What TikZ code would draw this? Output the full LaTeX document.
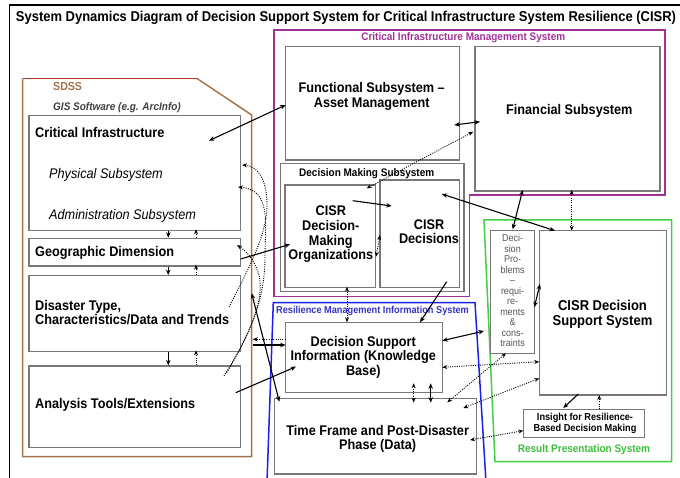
\documentclass[tikz,border=0pt]{standalone}
\usepackage{graphicx}
\usepackage{fontspec}
\setmainfont{Liberation Sans}
\usetikzlibrary{arrows.meta,fit,calc}
\definecolor{boxgray}{RGB}{120,120,120}
\definecolor{sdssbrown}{RGB}{165,115,75}
\definecolor{sdssred}{RGB}{185,60,45}
\definecolor{cimspurple}{RGB}{160,50,150}
\definecolor{rmisblue}{RGB}{30,30,235}
\definecolor{rmistext}{RGB}{50,50,200}
\definecolor{rpsgreen}{RGB}{70,205,70}
\definecolor{rpstext}{RGB}{60,190,60}
\definecolor{dpgray}{RGB}{85,85,85}
\newcommand\vs[1]{\scalebox{1}[1.1]{#1}}
\newcommand\vsm[1]{\scalebox{1}[1.1]{\begin{tabular}{@{}c@{}}#1\end{tabular}}}
\begin{document}
\begin{tikzpicture}[x=1pt,y=-1pt,
  box/.style={draw=boxgray, line width=1.2pt, inner sep=0pt},
  big/.style={font=\fontsize{12.7}{13.1}\selectfont\bfseries, inner sep=0pt},
  lbig/.style={font=\fontsize{12.7}{14.5}\selectfont\bfseries, anchor=base west, inner sep=0pt},
  ital/.style={font=\fontsize{12.7}{14.5}\selectfont\itshape, anchor=base west, inner sep=0pt},
  syslbl/.style={font=\fontsize{10}{12}\selectfont\bfseries, inner sep=0pt},
  outl/.style={line width=1.5pt},
  sarr/.style={line width=1.1pt, -{Stealth[length=5.5pt,width=4.5pt]}},
  sdbl/.style={line width=1.1pt, {Stealth[length=5.5pt,width=4.5pt]}-{Stealth[length=5.5pt,width=4.5pt]}},
  darr/.style={line width=0.9pt, dash pattern=on 1pt off 1.3pt, -{Stealth[length=5pt,width=4pt]}},
  ddbl/.style={line width=0.9pt, dash pattern=on 1pt off 1.3pt, {Stealth[length=5pt,width=4pt]}-{Stealth[length=5pt,width=4pt]}}
]
\useasboundingbox (0,0) rectangle (680,478);
% frame and title
\draw[line width=1.6pt] (9.5,482) -- (9.5,5) -- (682,5);
\node[inner sep=0pt] (title) at (346,17.5) {\scalebox{1}[1.1]{\resizebox{660pt}{!}{\bfseries System Dynamics Diagram of Decision Support System for Critical Infrastructure System Resilience (CISR)}}};

% system outlines
\draw[sdssbrown, outl] (196.7,78.3) -- (251.7,115) -- (251.7,456.7) -- (22.7,456.7) -- (22.7,78.3);
\draw[sdssred, outl] (22.7,78.3) -- (196.7,78.3);
\draw[cimspurple, outl] (274,30) -- (665,30) -- (665,195) -- (469.3,195) -- (469.3,296.7) -- (274,296.7) -- cycle;
\draw[rmisblue, outl] (267,482) -- (273.3,302.7) -- (475,302.7) -- (486,482);
\draw[rpsgreen, outl] (484,220) -- (671.7,220) -- (671.7,461.7) -- (495,461.7) -- cycle;

% system labels
\node[font=\fontsize{10.6}{12}\selectfont\bfseries, text=sdssbrown, anchor=base west, inner sep=0pt] (sdsslbl) at (53,90.8) {\vs{SDSS}};
\node[font=\fontsize{10}{12}\selectfont\bfseries\itshape, text=black!75, anchor=base west, inner sep=0pt] (gis) at (53,110.3) {\vs{GIS Software (e.g. ArcInfo)}};
\node[syslbl, text=cimspurple] (cimslbl) at (463.3,37.3) {\vs{Critical Infrastructure Management System}};
\node[syslbl, font=\fontsize{9.2}{11}\selectfont\bfseries, text=rmistext] (rmislbl) at (372.5,311) {\vs{Resilience Management Information System}};
\node[syslbl, text=rpstext] (rpslbl) at (584,449.3) {\vs{Result Presentation System}};

% boxes
\node[box, fit={(29,115.7) (240.7,230.7)}] (ci) {};
\node[box, fit={(29,238.3) (240.7,266)}] (geo) {};
\node[box, fit={(29,275.7) (240.7,351.7)}] (dis) {};
\node[box, fit={(29,366) (240.7,447.3)}] (ana) {};
\node[box, fit={(285.7,46.7) (459.3,160)}] (fun) {};
\node[box, fit={(475,46.7) (660,191)}] (fin) {};
\node[box, fit={(280.7,163.3) (464,291.7)}] (dms) {};
\node[box, fit={(285,185) (375.7,287.7)}] (dmo) {};
\node[box, fit={(380,180) (459.3,287.7)}] (dec) {};
\node[box, fit={(285.7,322.3) (442.3,392.7)}] (dsi) {};
\node[box, fit={(274.3,398.3) (476.7,474)}] (tf) {};
\node[box, fit={(490.7,230.7) (534.3,353.3)}] (dp) {};
\node[box, fit={(539.3,230.7) (666.7,395)}] (dss) {};
\node[box, fit={(523.3,409.3) (644.3,437.3)}] (ins) {};

% box texts
\node[lbig] (cit) at (35,137.5) {\vs{Critical Infrastructure}};
\node[ital] (cip) at (49,178.5) {\vs{Physical Subsystem}};
\node[ital] (cia) at (49,219.5) {\vs{Administration Subsystem}};
\node[lbig] (geot) at (35,256.2) {\vs{Geographic Dimension}};
\node[lbig] (dist1) at (35,310.5) {\vs{Disaster Type,}};
\node[lbig] (dist2) at (35,324.5) {\vs{Characteristics/Data and Trends}};
\node[lbig] (anat) at (35,408.5) {\vs{Analysis Tools/Extensions}};
\node[big] (funt) at (371.7,97.2) {\vsm{Functional Subsystem –\\Asset Management}};
\node[big] (fint) at (569.3,111) {\vs{Financial Subsystem}};
\node[syslbl] (dmst) at (366.7,173.3) {\vs{Decision Making Subsystem}};
\node[big, font=\fontsize{12.7}{13.4}\selectfont\bfseries] (dmot) at (330.8,234.7) {\vsm{CISR\\Decision-\\Making\\Organizations}};
\node[big] (dect) at (429,233.8) {\vsm{CISR\\Decisions}};
\node[big, font=\fontsize{12.7}{13.2}\selectfont\bfseries] (dsit) at (363.3,357.8) {\vsm{Decision Support\\Information (Knowledge\\Base)}};
\node[big, font=\fontsize{12.7}{12.5}\selectfont\bfseries] (tft) at (377.7,439.2) {\vsm{Time Frame and Post-Disaster\\Phase (Data)}};
\node[font=\fontsize{9}{9.55}\selectfont, text=dpgray, inner sep=0pt] (dpt) at (512.5,292) {\vsm{Deci-\\sion\\Pro-\\blems\\–\\requi-\\re-\\ments\\\&\\cons-\\traints}};
\node[big, font=\fontsize{13}{13.3}\selectfont\bfseries] (dsst) at (602.5,315) {\vsm{CISR Decision\\Support System}};
\node[font=\fontsize{9.2}{9.7}\selectfont\bfseries, inner sep=0pt] (inst) at (585,423.7) {\vsm{Insight for Resilience-\\Based Decision Making}};

% connector end points
\coordinate (ciA) at (209,140.7);
\coordinate (funA) at (285.7,105);
\coordinate (funB) at (454.3,125);
\coordinate (finB) at (480,121.7);
\coordinate (dmoC) at (366.7,188.3);
\coordinate (finC) at (473.3,131.7);
\coordinate (dmoD) at (352.7,200.7);
\coordinate (decD) at (391.7,206);
\coordinate (dmoE) at (376,256.7);
\coordinate (decE) at (380,235);
\coordinate (decF) at (441.7,194);
\coordinate (dssF) at (555,230.7);
\coordinate (finG) at (522.7,190);
\coordinate (dpG) at (512.7,229.3);
\coordinate (finH) at (571.7,190);
\coordinate (dssH) at (571.7,230.7);
\coordinate (geoI) at (240.7,259);
\coordinate (dmoI) at (290,244.3);
\coordinate (decJ) at (446.7,281.7);
\coordinate (dsiJ) at (420,322.3);
\coordinate (dmsK) at (347,286.7);
\coordinate (dsiK) at (347,322.3);
\coordinate (dsiL) at (442.3,340.7);
\coordinate (rpsL) at (484,331);
\coordinate (dpM) at (534.3,307.3);
\coordinate (dssM) at (540,284);
\coordinate (dsiN) at (442.3,367.3);
\coordinate (dssN) at (539.3,361.7);
\coordinate (tfO) at (447.3,402.3);
\coordinate (dpO) at (506,353.3);
\coordinate (tfP) at (463.3,408);
\coordinate (dssP) at (539.3,378.3);
\coordinate (tfQ) at (470,440);
\coordinate (insQ) at (523.3,430.7);
\coordinate (dsiR1) at (413.7,383.3);
\coordinate (tfR1) at (413.7,402.7);
\coordinate (dsiR2) at (430.7,383.3);
\coordinate (tfR2) at (430.7,402.7);
\coordinate (dssS) at (578.3,394);
\coordinate (insS) at (563.3,408);
\coordinate (insT) at (599.3,409.3);
\coordinate (dssT) at (599.3,395);
\coordinate (dsiU1) at (285.7,339.3);
\coordinate (sdsU1) at (252.7,339.3);
\coordinate (sdsU2) at (252.7,345);
\coordinate (dsiU2) at (285.7,345);
\coordinate (anaV) at (235.7,392.7);
\coordinate (dsiV) at (296,366.7);
\coordinate (disW) at (251.7,293.3);
\coordinate (tfW) at (279.3,401.7);
\coordinate (ciX1) at (242,165);
\coordinate (ciX2) at (238,187);
\coordinate (geoX3) at (237,245);
\coordinate (disX1) at (229,307);
\coordinate (anaX2) at (224,376);
\coordinate (anaX3) at (226.5,373);

% connectors
\draw[sdbl] (ciA) -- (funA);
\draw[sdbl] (funB) -- (finB);
\draw[ddbl] (dmoC) -- (finC);
\draw[sarr] (dmoD) -- (decD);
\draw[ddbl] (dmoE) -- (decE);
\draw[sdbl] (decF) -- (dssF);
\draw[sdbl] (finG) -- (dpG);
\draw[ddbl] (finH) -- (dssH);
\draw[sarr] (geoI) -- (dmoI);
\draw[sarr] (decJ) -- (dsiJ);
\draw[ddbl] (dmsK) -- (dsiK);
\draw[sdbl] (dsiL) -- (rpsL);
\draw[sdbl] (dpM) -- (dssM);
\draw[ddbl] (dsiN) -- (dssN);
\draw[ddbl] (tfO) -- (dpO);
\draw[ddbl] (tfP) -- (dssP);
\draw[ddbl] (tfQ) -- (insQ);
\draw[ddbl] (dsiR1) -- (tfR1);
\draw[sdbl] (dsiR2) -- (tfR2);
\draw[sarr] (dssS) -- (insS);
\draw[darr] (insT) -- (dssT);
\draw[darr] (dsiU1) -- (sdsU1);
\draw[sarr] (sdsU2) -- (dsiU2);
\draw[sarr] (anaV) -- (dsiV);
\draw[sdbl] (disW) -- (tfW);

% vertical arrows inside SDSS
\draw[sarr] ($(ci.south)+(33.4,0)$) -- ($(geo.north)+(33.4,0)$);
\draw[darr] ($(geo.north)+(61.2,0)$) -- ($(ci.south)+(61.2,-2)$);
\draw[sarr] ($(geo.south)+(33.4,0)$) -- ($(dis.north)+(33.4,0)$);
\draw[darr] ($(dis.north)+(61.2,0)$) -- ($(geo.south)+(61.2,-2)$);
\draw[sarr] ($(dis.south)+(33.4,0)$) -- ($(ana.north)+(33.4,0)$);
\draw[darr] ($(ana.north)+(61.2,0)$) -- ($(dis.south)+(61.2,-2)$);

% dotted curves
\draw[darr] (disX1) .. controls (248,270) and (267,235) .. (267,205) .. controls (267,180) and (258,166) .. (ciX1);
\draw[darr] (anaX2) .. controls (250,335) and (265,300) .. (265,257) .. controls (265,225) and (272,190) .. (ciX2);
\draw[darr] (anaX3) .. controls (252,330) and (266,295) .. (258,272) .. controls (253,258) and (246,251) .. (geoX3);
\end{tikzpicture}
\end{document}
